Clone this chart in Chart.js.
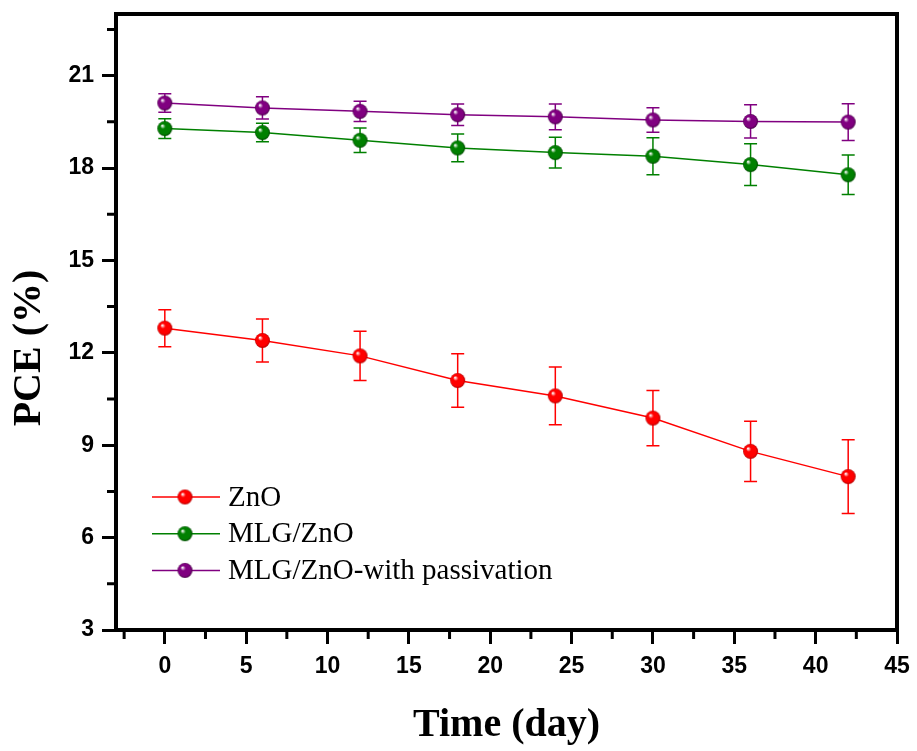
<!DOCTYPE html>
<html>
<head>
<meta charset="utf-8">
<script src="https://cdn.jsdelivr.net/npm/chart.js@4.4.1/dist/chart.umd.min.js"></script>
<style>
  body { margin: 0; background: #fff; }
  #wrap { width: 917px; height: 751px; }
</style>
</head>
<body>
<div id="wrap"><canvas id="myChart" width="917" height="751"></canvas></div>
<script>
const days = [0, 6, 12, 18, 24, 30, 36, 42];

const znoPce = [12.8, 12.4, 11.9, 11.1, 10.6, 9.88, 8.8, 7.98];
const znoErr = [0.6, 0.7, 0.8, 0.87, 0.94, 0.9, 0.98, 1.2];

const mlgPce = [19.28, 19.15, 18.9, 18.65, 18.5, 18.38, 18.11, 17.78];
const mlgErr = [0.32, 0.3, 0.4, 0.45, 0.5, 0.6, 0.68, 0.64];

const pasPce = [20.11, 19.95, 19.84, 19.73, 19.66, 19.56, 19.51, 19.49];
const pasErr = [0.3, 0.36, 0.33, 0.35, 0.42, 0.4, 0.54, 0.6];

const seriesNames = ['ZnO', 'MLG/ZnO', 'MLG/ZnO-with passivation'];

const xTicks = [0, 5, 10, 15, 20, 25, 30, 35, 40, 45];
const xMinor = [-2.5, 2.5, 7.5, 12.5, 17.5, 22.5, 27.5, 32.5, 37.5, 42.5];
const yTicks = [3, 6, 9, 12, 15, 18, 21];
const yMinor = [4.5, 7.5, 10.5, 13.5, 16.5, 19.5, 22.5];

const colors = ['#ff0000', '#008000', '#800080'];
const edges = ['#b00000', '#004800', '#480048'];

function sphere(color, edge, r) {
    const c = document.createElement('canvas');
    c.width = c.height = Math.ceil(2 * r + 2);
    const g = c.getContext('2d');
    const cx = c.width / 2, cy = c.height / 2;
    const grad = g.createRadialGradient(cx - r * 0.35, cy - r * 0.4, r * 0.05, cx, cy, r);
    grad.addColorStop(0, '#ffffff');
    grad.addColorStop(0.3, color);
    grad.addColorStop(0.8, color);
    grad.addColorStop(1, edge);
    g.fillStyle = grad;
    g.beginPath();
    g.arc(cx, cy, r, 0, Math.PI * 2);
    g.fill();
    return c;
}

const balls = colors.map((c, i) => sphere(c, edges[i], 7.5));

function pts(vals) {
    return days.map((d, i) => ({ x: d, y: vals[i] }));
}

const errs = [znoErr, mlgErr, pasErr];

const errorBars = {
    id: 'errorBars',
    beforeDatasetsDraw(chart) {
        const ctx = chart.ctx;
        const xs = chart.scales.x, ys = chart.scales.y;
        chart.data.datasets.forEach((ds, i) => {
            ctx.save();
            ctx.strokeStyle = colors[i];
            ctx.lineWidth = 1.5;
            ds.data.forEach((p, j) => {
                const px = xs.getPixelForValue(p.x);
                const top = ys.getPixelForValue(p.y + errs[i][j]);
                const bot = ys.getPixelForValue(p.y - errs[i][j]);
                ctx.beginPath();
                ctx.moveTo(px, top); ctx.lineTo(px, bot);
                ctx.moveTo(px - 6.5, top); ctx.lineTo(px + 6.5, top);
                ctx.moveTo(px - 6.5, bot); ctx.lineTo(px + 6.5, bot);
                ctx.stroke();
            });
            ctx.restore();
        });
    }
};

const frame = {
    id: 'frame',
    afterDraw(chart) {
        const ctx = chart.ctx;
        const ca = chart.chartArea;
        const xs = chart.scales.x, ys = chart.scales.y;
        ctx.save();
        ctx.strokeStyle = '#000';
        ctx.lineWidth = 4;
        ctx.strokeRect(ca.left, ca.top, ca.right - ca.left, ca.bottom - ca.top);

        // minor ticks
        ctx.lineWidth = 3;
        ctx.beginPath();
        xMinor.forEach(v => {
            const px = xs.getPixelForValue(v);
            ctx.moveTo(px, ca.bottom); ctx.lineTo(px, ca.bottom + 9);
        });
        yMinor.forEach(v => {
            const py = ys.getPixelForValue(v);
            ctx.moveTo(ca.left - 9, py); ctx.lineTo(ca.left, py);
        });
        ctx.stroke();

        // y title
        ctx.fillStyle = '#000';
        ctx.font = 'bold 40px "Liberation Serif", "Times New Roman", serif';
        ctx.textAlign = 'center';
        ctx.textBaseline = 'middle';
        ctx.translate(30, 348);
        ctx.rotate(-Math.PI / 2);
        ctx.fillText('PCE (%)', 0, 0);
        ctx.restore();

        // legend
        ctx.save();
        ctx.font = '29px "Liberation Serif", "Times New Roman", serif';
        ctx.textBaseline = 'middle';
        ctx.fillStyle = '#000';
        seriesNames.forEach((name, i) => {
            const y = ca.top + 483 + i * 36.7;
            const x0 = ca.left + 36;
            ctx.strokeStyle = colors[i];
            ctx.lineWidth = 1.5;
            ctx.beginPath();
            ctx.moveTo(x0, y); ctx.lineTo(x0 + 68, y);
            ctx.stroke();
            ctx.drawImage(balls[i], x0 + 33 - balls[i].width / 2, y - balls[i].height / 2);
            ctx.fillText(name, x0 + 76, y + 1);
        });
        ctx.restore();
    }
};

document.addEventListener("DOMContentLoaded", function() {
    const ctx = document.getElementById('myChart').getContext('2d');

    const tickFont = { family: 'Liberation Sans', size: 23, weight: 'bold' };

    new Chart(ctx, {
        type: 'line',
        data: {
            datasets: [znoPce, mlgPce, pasPce].map((vals, i) => ({
                label: seriesNames[i],
                data: pts(vals),
                borderColor: colors[i],
                borderWidth: 1.5,
                pointStyle: balls[i],
                pointRadius: 7,
                tension: 0,
                fill: false
            }))
        },
        options: {
            responsive: false,
            animation: false,
            devicePixelRatio: 1,
            layout: { padding: { top: 14, right: 20, left: 0, bottom: 0 } },
            plugins: {
                legend: { display: false },
                tooltip: { enabled: false }
            },
            scales: {
                x: {
                    type: 'linear',
                    min: -3,
                    max: 45,
                    afterBuildTicks: s => { s.ticks = xTicks.map(v => ({ value: v })); },
                    afterFit: s => { s.height = 121; s.paddingLeft = 0; s.paddingRight = 0; },
                    grid: { drawOnChartArea: false, drawTicks: true, tickLength: 14, tickWidth: 3, tickColor: '#000' },
                    border: { display: true, color: '#000', width: 4 },
                    ticks: { color: '#000', font: tickFont, padding: 9, maxRotation: 0, autoSkip: false },
                    title: {
                        display: true,
                        text: 'Time (day)',
                        color: '#000',
                        font: { family: 'Liberation Serif', size: 40, weight: 'bold' },
                        padding: { top: 0, bottom: 1 }
                    }
                },
                y: {
                    min: 3,
                    max: 23,
                    afterBuildTicks: s => { s.ticks = yTicks.map(v => ({ value: v })); },
                    afterFit: s => { s.width = 116; s.paddingTop = 0; s.paddingBottom = 0; },
                    grid: { drawOnChartArea: false, drawTicks: true, tickLength: 14, tickWidth: 3, tickColor: '#000' },
                    border: { display: true, color: '#000', width: 4 },
                    ticks: { color: '#000', font: tickFont, padding: 8, autoSkip: false }
                }
            }
        },
        plugins: [errorBars, frame]
    });
});
</script>
</body>
</html>
